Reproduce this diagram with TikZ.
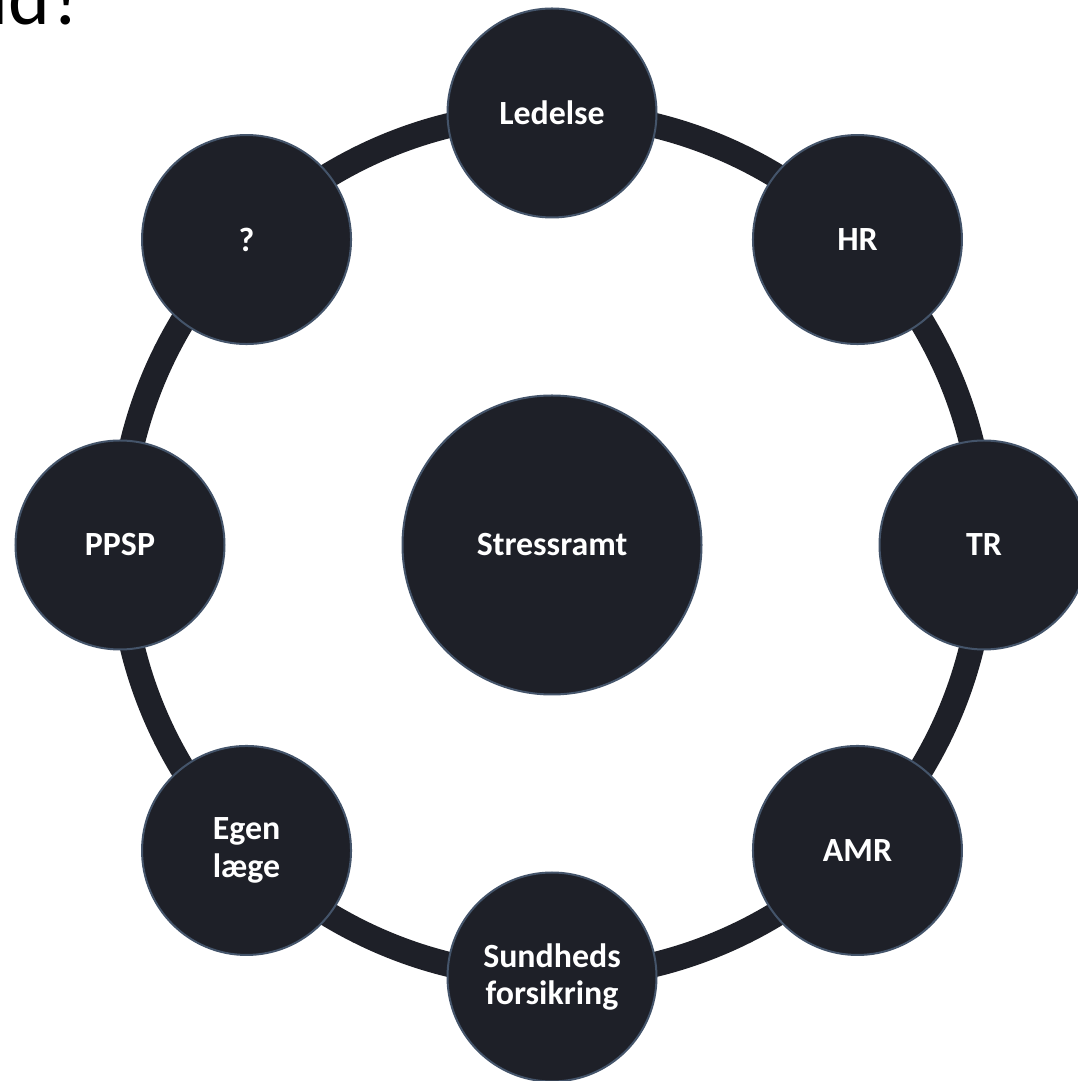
\documentclass[tikz,border=0pt]{standalone}
\usepackage{fontspec}
\setmainfont{Carlito}
\usetikzlibrary{backgrounds}
\definecolor{nodefill}{HTML}{1E2028}
\definecolor{nodeedge}{HTML}{44546A}
\begin{document}
\begin{tikzpicture}[x=1bp,y=1bp,
  outer/.style={circle, fill=nodefill, draw=nodeedge, line width=2bp, minimum size=209bp, inner sep=0pt, text=white, font=\bfseries\fontsize{34}{38}\selectfont, align=center},
  hub/.style={outer, minimum size=299bp},
  ring/.style={draw=nodefill, line width=25bp, looseness=0.885},
  heading/.style={anchor=base west, inner sep=0pt, font=\fontsize{80}{80}\selectfont}]
\useasboundingbox (0,0) rectangle (1078,1081);
\clip (0,0) rectangle (1078,1081);
\coordinate (C) at (552,536);
\node[heading] (head) at (-34,1056) {ud?};
\node[hub] (hub) at (C) {Stressramt};
\node[outer] (led) at ([shift={(90:432)}]C) {Ledelse};
\node[outer] (hr) at ([shift={(45:432)}]C) {HR};
\node[outer] (tr) at ([shift={(0:432)}]C) {TR};
\node[outer] (amr) at ([shift={(-45:432)}]C) {AMR};
\node[outer] (sund) at ([shift={(-90:432)}]C) {Sundheds\\forsikring};
\node[outer] (egen) at ([shift={(-135:432)}]C) {Egen\\læge};
\node[outer] (ppsp) at ([shift={(180:432)}]C) {PPSP};
\node[outer] (q) at ([shift={(135:432)}]C) {?};
\begin{scope}[on background layer]
  \fill[white] (0,0) rectangle (1078,1081);
  \draw[ring] (led.center) to[bend left=22.5] (hr.center);
  \draw[ring] (hr.center) to[bend left=22.5] (tr.center);
  \draw[ring] (tr.center) to[bend left=22.5] (amr.center);
  \draw[ring] (amr.center) to[bend left=22.5] (sund.center);
  \draw[ring] (sund.center) to[bend left=22.5] (egen.center);
  \draw[ring] (egen.center) to[bend left=22.5] (ppsp.center);
  \draw[ring] (ppsp.center) to[bend left=22.5] (q.center);
  \draw[ring] (q.center) to[bend left=22.5] (led.center);
\end{scope}
\end{tikzpicture}
\end{document}
